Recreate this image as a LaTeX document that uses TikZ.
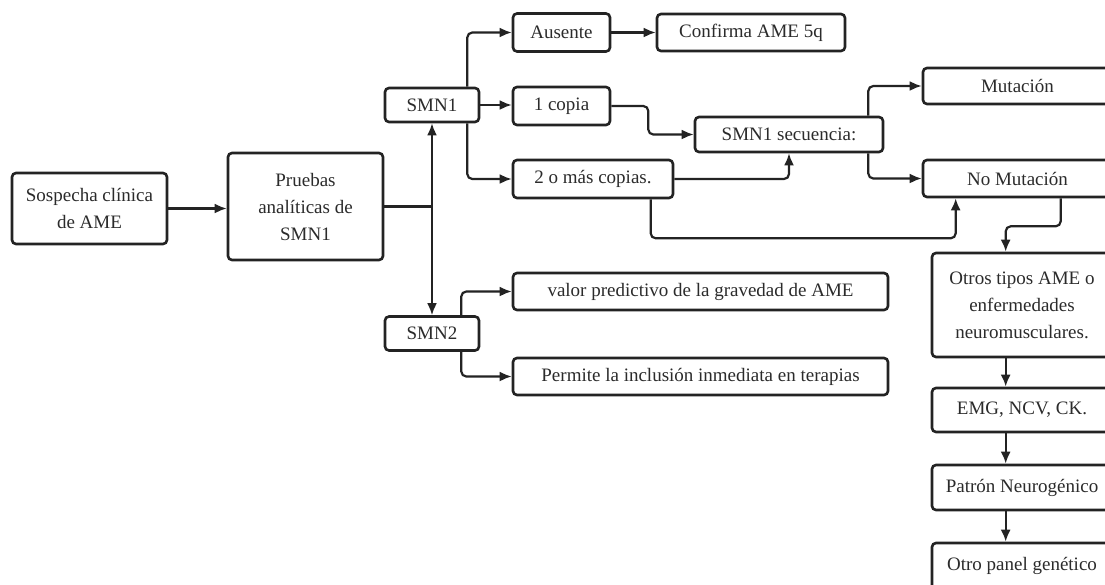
\documentclass[tikz,border=0pt]{standalone}
\usepackage{fontspec}
\setmainfont{Liberation Serif}
\usetikzlibrary{arrows.meta,calc}
\definecolor{linec}{HTML}{232323}
\definecolor{txtc}{HTML}{2B2B2B}
\begin{document}
\begin{tikzpicture}[x=1pt,y=-1pt,
  box/.style={draw=linec, line width=2.6pt, rounded corners=4pt, inner sep=0pt, align=center,
    text=txtc, font=\fontsize{19}{27}\selectfont},
  arr/.style={draw=linec, line width=2.2pt, rounded corners=5pt, -{Latex[length=12pt,width=10pt]}},
  ln/.style={draw=linec, line width=2.2pt, rounded corners=5pt}]
\useasboundingbox (0,0) rectangle (1105,584);
\fill[white] (0,0) rectangle (1105,584);
\node[box, minimum width=155pt, minimum height=71pt] (sos) at (89.5,208.5) {Sospecha clínica\\de AME};
\node[box, minimum width=155pt, minimum height=107pt] (pru) at (305.5,206.5) {Pruebas\\analíticas de\\SMN1};
\node[box, minimum width=94pt, minimum height=34pt] (smn1) at (432,105) {SMN1};
\node[box, minimum width=94pt, minimum height=34pt] (smn2) at (432,333.5) {SMN2};
\node[box, minimum width=97pt, minimum height=38pt] (aus) at (561.5,32.5) {Ausente};
\node[box, minimum width=188pt, minimum height=37pt] (conf) at (751,32.5) {Confirma AME 5q};
\node[box, minimum width=97pt, minimum height=38pt] (cop1) at (561.5,106) {1 copia};
\node[box, minimum width=160pt, minimum height=38pt] (cop2) at (593,179) {2 o más copias.};
\node[box, minimum width=188pt, minimum height=35pt] (sec) at (789,134.5) {SMN1 secuencia:};
\node[box, minimum width=189pt, minimum height=36pt] (mut) at (1017.5,86) {Mutación};
\node[box, minimum width=189pt, minimum height=37pt] (nomut) at (1017.5,178.5) {No Mutación};
\node[box, minimum width=180pt, minimum height=104pt] (otros) at (1022,305) {Otros tipos AME o\\enfermedades\\neuromusculares.};
\node[box, minimum width=180pt, minimum height=44pt] (emg) at (1022,410) {EMG, NCV, CK.};
\node[box, minimum width=180pt, minimum height=45pt] (pat) at (1022,487.5) {Patrón Neurogénico};
\node[box, minimum width=180pt, minimum height=46pt] (otro) at (1022,566) {Otro panel genético};
\node[box, minimum width=375pt, minimum height=37pt] (val) at (700.5,291.5) {valor predictivo de la gravedad de AME};
\node[box, minimum width=375pt, minimum height=37pt] (perm) at (700.5,376.5) {Permite la inclusión inmediata en terapias};
\coordinate (j) at (432,206.5);
% connectors
\draw[arr] (sos.east) -- (sos.east -| pru.west);
\draw[ln] (pru.east) -- (j);
\draw[arr] (j) -- (smn1.south);
\draw[arr] (j) -- (smn2.north);
\draw[arr] ($(smn1.north east)+(-13,0)$) |- (aus.west);
\draw[arr] (smn1.east) -- (smn1.east -| cop1.west);
\draw[arr] ($(smn1.south east)+(-13,0)$) |- (cop2.west);
\draw[arr] (aus.east) -- (aus.east -| conf.west);
\draw[arr] (cop1.east) -- ++(37,0) |- (sec.west);
\draw[arr] (cop2.east) -| (sec.south);
\draw[arr] ($(cop2.south west)+(139,0)$) |- ($(nomut.south west)+(34,40)$) -- ($(nomut.south west)+(34,0)$);
\draw[arr] ($(sec.north east)+(-16,0)$) |- (mut.west);
\draw[arr] ($(sec.south east)+(-16,0)$) |- (nomut.west);
\draw[arr] ($(smn2.north east)+(-19,0)$) |- (val.west);
\draw[arr] ($(smn2.south east)+(-19,0)$) |- (perm.west);
\draw[arr] ($(nomut.south west)+(139,0)$) -- ++(0,28) -| ($(otros.north west)+(75,0)$);
\draw[arr] ($(otros.south west)+(75,0)$) -- ($(emg.north west)+(75,0)$);
\draw[arr] ($(emg.south west)+(75,0)$) -- ($(pat.north west)+(75,0)$);
\draw[arr] ($(pat.south west)+(75,0)$) -- ($(otro.north west)+(75,0)$);
\end{tikzpicture}
\end{document}
